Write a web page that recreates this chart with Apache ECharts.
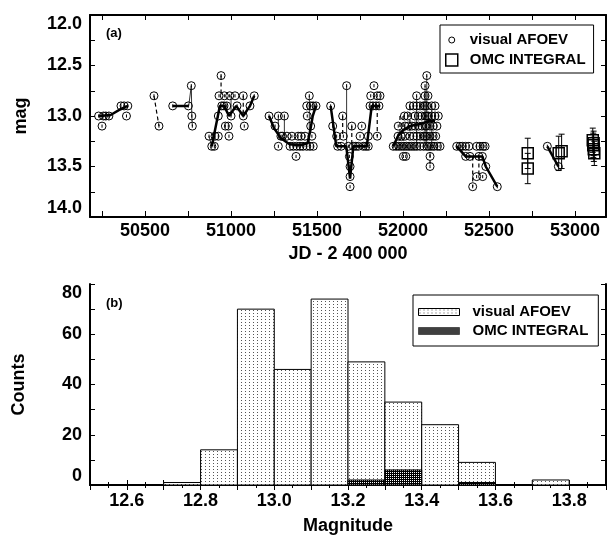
<!DOCTYPE html>
<html>
<head>
<meta charset="utf-8">
<script src="https://cdn.jsdelivr.net/npm/echarts@6/dist/echarts.min.js"></script>
<style>
html, body { margin: 0; padding: 0; background: #fff; }
#chart { width: 610px; height: 536px; }
</style>
</head>
<body>
<div id="chart"></div>
<script>
// (a) light curve: visual AFOEV estimates [JD-2400000, mag]
var visualObs = [
    [50230,13.0],[50250,13.1],[50258,13.0],[50272,13.0],[50290,13.0],[50360,12.9],[50378,12.9],[50392,13.0],[50400,12.9],
    [50552,12.8],[50581,13.1],
    [50661,12.9],[50752,12.9],[50769,12.7],[50772,13.0],[50775,13.1],
    [50872,13.2],[50888,13.3],[50903,13.3],[50907,13.2],[50926,13.2],[50926,13.0],[50930,12.8],[50942,12.6],[50946,12.9],
    [50959,12.9],[50961,12.8],[50967,13.1],[50975,12.9],[50984,13.1],[50988,13.2],[50992,12.8],[51000,13.0],[51023,12.8],
    [51035,12.9],[51071,12.8],[51071,13.0],[51077,13.1],[51110,12.9],[51135,12.8],
    [51221,13.0],[51256,13.1],[51275,13.0],[51275,13.3],[51290,13.2],[51298,13.2],[51310,13.0],[51325,13.2],[51343,13.3],
    [51354,13.2],[51362,13.3],[51378,13.4],[51382,13.3],[51390,13.2],[51401,13.3],[51407,13.2],[51418,13.3],[51430,13.2],
    [51440,13.3],[51443,13.0],[51440,12.9],[51455,12.8],[51459,13.3],[51463,12.9],[51463,13.1],[51470,13.2],[51478,13.3],
    [51477,12.9],[51494,12.9],
    [51579,12.9],[51591,13.1],[51614,13.2],[51620,13.3],[51649,13.0],[51640,13.3],[51653,13.2],[51672,12.7],[51682,13.3],
    [51688,13.4],[51692,13.5],[51692,13.6],[51692,13.7],[51702,13.1],[51711,13.3],[51725,13.3],[51740,13.3],[51750,13.2],
    [51760,13.1],[51769,13.3],[51784,13.3],[51798,13.3],[51798,13.2],[51808,12.9],[51812,12.8],[51825,12.9],[51831,12.7],
    [51843,12.9],[51850,12.8],[51850,13.2],[51860,12.9],[51866,12.8],
    [51943,13.3],[51960,13.3],[51975,13.3],[51990,13.3],[52005,13.3],[52020,13.3],[52035,13.3],[52050,13.3],[52065,13.3],
    [52080,13.3],[52100,13.3],[52120,13.3],[52138,13.3],[52150,13.3],[52165,13.3],[52180,13.3],[52200,13.3],[52215,13.3],
    [52002,13.4],[52016,13.4],[52157,13.4],[52157,13.5],
    [51971,13.2],[51990,13.2],[52011,13.2],[52040,13.2],[52060,13.2],[52080,13.2],[52100,13.2],[52118,13.2],[52128,13.2],
    [52138,13.2],[52157,13.2],[52175,13.2],[52190,13.2],
    [51972,13.1],[52011,13.1],[52030,13.1],[52052,13.1],[52070,13.1],[52090,13.1],[52110,13.1],[52128,13.1],[52138,13.1],
    [52157,13.1],[52175,13.1],[52197,13.1],
    [52008,13.0],[52027,13.0],[52069,13.0],[52089,13.0],[52108,13.0],[52128,13.0],[52138,13.0],[52147,13.0],[52167,13.0],
    [52186,13.0],[52205,13.0],
    [52040,12.9],[52060,12.9],[52079,12.9],[52099,12.9],[52118,12.9],[52128,12.9],[52138,12.9],[52167,12.9],[52186,12.9],
    [52079,12.8],[52128,12.8],[52145,12.8],[52128,12.7],[52138,12.6],
    [52312,13.3],[52331,13.3],[52345,13.3],[52364,13.3],[52364,13.4],[52383,13.3],[52389,13.4],[52405,13.7],[52428,13.3],
    [52428,13.6],[52441,13.4],[52447,13.3],[52461,13.4],[52463,13.6],[52465,13.3],[52477,13.3],[52481,13.5],[52548,13.7],
    [52839,13.3],[52903,13.5]
];

// thick running-mean segments
var trendSegs = [
    [[50232,13.0],[50300,12.99],[50360,12.93],[50400,12.9]],
    [[50661,12.9],[50752,12.9]],
    [[50888,13.3],[50935,12.9],[50960,12.9],[50988,13.0],[51030,12.9],[51071,13.0],[51110,12.9],[51135,12.8]],
    [[51221,13.0],[51250,13.12],[51290,13.22],[51340,13.28],[51400,13.29],[51445,13.27],[51460,13.15],[51475,13.0],[51494,12.9]],
    [[51579,12.9],[51612,13.3],[51670,13.3],[51692,13.62],[51711,13.3],[51789,13.3],[51818,12.9],[51866,12.9]],
    [[51943,13.3],[51970,13.2],[52000,13.14],[52040,13.1],[52100,13.08],[52150,13.05],[52186,13.05]],
    [[52312,13.3],[52364,13.4],[52461,13.4],[52481,13.5],[52548,13.7]],
    [[52839,13.3],[52903,13.5]]
];

// thin joins
var thinSegs = [
    [[50754,12.9],[50769,12.7],[50772,13.0],[50775,13.1]],
    [[50872,13.2],[50888,13.3],[50907,13.2]],
    [[51000,12.8],[51000,13.0]],
    [[51275,13.0],[51275,13.2]],
    [[51310,13.0],[51310,13.2]],
    [[51455,12.8],[51455,13.3]],
    [[51672,12.7],[51672,13.3]],
    [[52079,12.8],[52079,13.3]],
    [[52128,12.7],[52128,13.3]],
    [[52138,12.6],[52138,13.3]],
    [[52167,12.9],[52167,13.3]]
];

// dashed joins
var dashSegs = [
    [[50552,12.8],[50581,13.1]],
    [[50942,12.6],[50942,12.8]],
    [[51071,12.8],[51071,13.0]],
    [[51649,13.0],[51649,13.2]],
    [[51702,13.1],[51702,13.3]],
    [[51850,12.9],[51850,13.2]],
    [[51982,13.0],[51982,13.3]],
    [[52000,13.0],[52000,13.3]],
    [[52040,12.9],[52040,13.2]],
    [[52157,13.3],[52157,13.5]],
    [[52405,13.4],[52405,13.7]],
    [[52441,13.4],[52441,13.6]]
];

// OMC INTEGRAL points and errors
var omcObs = [[52725,13.37],[52725,13.52],[52905,13.37],[52922,13.35],[53103,13.24],[53106,13.29],[53109,13.33],[53112,13.37],[53108,13.27]];
var omcErr = [0.15, 0.15, 0.17, 0.17, 0.12, 0.12, 0.12, 0.12, 0.12];

var jdTicks = [50250,50500,50750,51000,51250,51500,51750,52000,52250,52500,52750,53000];
var jdLabels = [50500,51000,51500,52000,52500,53000];

// (b) histogram, bins of 0.1 mag
var histBinLo = [12.7, 12.8, 12.9, 13.0, 13.1, 13.2, 13.3, 13.4, 13.5, 13.7];
var visualCounts = [1, 14, 70, 46, 74, 49, 33, 24, 9, 2];
var omcBinLo = [13.2, 13.3, 13.5];
var omcCounts = [2, 6, 1];

var FONT = '"Liberation Sans", Arial, sans-serif';
var BIN = 0.1;

function makePattern(w, h, draw) {
    var c = document.createElement('canvas');
    c.width = w; c.height = h;
    var ctx = c.getContext('2d');
    ctx.fillStyle = '#fff';
    ctx.fillRect(0, 0, w, h);
    draw(ctx);
    return { image: c, repeat: 'repeat' };
}
var dotFill = makePattern(4, 3, function (ctx) {
    ctx.fillStyle = '#555';
    ctx.fillRect(1, 1, 1, 1);
});
var darkFill = makePattern(2, 2, function (ctx) {
    ctx.fillStyle = '#000';
    ctx.fillRect(0, 0, 2, 2);
    ctx.fillStyle = '#fff';
    ctx.fillRect(0, 0, 1, 1);
});

var labelStyle = { fontSize: 18, fontWeight: 'bold', color: '#000', fontFamily: FONT };
var nameStyle = { fontSize: 18, fontWeight: 'bold', color: '#000', fontFamily: FONT };
var blackLine = { lineStyle: { color: '#000', width: 2 } };

function mirrorAxis(gridIndex, position, extra) {
    var ax = {
        type: 'value', gridIndex: gridIndex, position: position,
        axisLine: blackLine,
        axisTick: { inside: true, length: 5, lineStyle: { color: '#000' } },
        axisLabel: { show: false },
        splitLine: { show: false }
    };
    return Object.assign(ax, extra);
}

var series = [];
trendSegs.forEach(function (seg) {
    series.push({ type: 'line', xAxisIndex: 0, yAxisIndex: 0, data: seg, showSymbol: false, silent: true,
        lineStyle: { color: '#000', width: 2.5 }, z: 2, animation: false });
});
thinSegs.forEach(function (seg) {
    series.push({ type: 'line', xAxisIndex: 0, yAxisIndex: 0, data: seg, showSymbol: false, silent: true,
        lineStyle: { color: '#000', width: 0.8 }, z: 2, animation: false });
});
dashSegs.forEach(function (seg) {
    series.push({ type: 'line', xAxisIndex: 0, yAxisIndex: 0, data: seg, showSymbol: false, silent: true,
        lineStyle: { color: '#000', width: 1.2, type: [4, 3] }, z: 2, animation: false });
});
series.push({
    name: 'visual AFOEV', type: 'scatter', xAxisIndex: 0, yAxisIndex: 0,
    data: visualObs,
    symbol: 'path://M10,0A10,10,0,1,1,10,20A10,10,0,1,1,10,0ZM10,6L10,14',
    symbolSize: 8,
    itemStyle: { color: 'rgba(255,255,255,0)', borderColor: '#000', borderWidth: 1, opacity: 1 },
    z: 3, animation: false
});
series.push({
    type: 'custom', xAxisIndex: 0, yAxisIndex: 0,
    data: omcObs.map(function (p, i) { return [p[0], p[1], omcErr[i]]; }),
    encode: { x: 0, y: 1 },
    renderItem: function (params, api) {
        var a = api.coord([api.value(0), api.value(1) - api.value(2)]);
        var b = api.coord([api.value(0), api.value(1) + api.value(2)]);
        var st = { stroke: '#000', lineWidth: 1 };
        return { type: 'group', children: [
            { type: 'line', shape: { x1: a[0], y1: a[1], x2: b[0], y2: b[1] }, style: st },
            { type: 'line', shape: { x1: a[0] - 3, y1: a[1], x2: a[0] + 3, y2: a[1] }, style: st },
            { type: 'line', shape: { x1: b[0] - 3, y1: b[1], x2: b[0] + 3, y2: b[1] }, style: st }
        ] };
    },
    silent: true, z: 3, animation: false
});
series.push({
    name: 'OMC INTEGRAL', type: 'scatter', xAxisIndex: 0, yAxisIndex: 0,
    data: omcObs, symbol: 'rect', symbolSize: 11,
    itemStyle: { color: 'rgba(255,255,255,0)', borderColor: '#000', borderWidth: 1.5, opacity: 1 },
    z: 4, animation: false
});

function histSeries(name, lo, counts, fill, z) {
    return {
        name: name, type: 'custom', xAxisIndex: 2, yAxisIndex: 2,
        data: lo.map(function (v, i) { return [v, v + BIN, counts[i]]; }),
        encode: { x: [0, 1], y: 2 },
        renderItem: function (params, api) {
            var p0 = api.coord([api.value(0), 0]);
            var p1 = api.coord([api.value(1), api.value(2)]);
            return { type: 'rect',
                shape: { x: p0[0], y: p1[1], width: p1[0] - p0[0], height: p0[1] - p1[1] },
                style: { fill: fill, stroke: '#000', lineWidth: 1 } };
        },
        silent: true, z: z, animation: false
    };
}
series.push(histSeries('visual AFOEV', histBinLo, visualCounts, dotFill, 2));
series.push(histSeries('OMC INTEGRAL', omcBinLo, omcCounts, darkFill, 3));

var option = {
    backgroundColor: '#fff',
    animation: false,
    grid: [
        { left: 90, top: 15, width: 516, height: 202 },
        { left: 90, top: 284, width: 516, height: 204 }
    ],
    xAxis: [
        {
            type: 'value', gridIndex: 0, min: 50180, max: 53180,
            axisLine: blackLine,
            axisTick: { inside: true, length: 6, lineStyle: { color: '#000' }, customValues: jdTicks },
            axisLabel: Object.assign({ customValues: jdLabels, margin: 5, formatter: function (v) { return String(v); } }, labelStyle),
            splitLine: { show: false },
            name: 'JD - 2 400 000', nameLocation: 'middle', nameGap: 28, nameTextStyle: nameStyle
        },
        mirrorAxis(0, 'top', { min: 50180, max: 53180,
            axisTick: { inside: true, length: 5, lineStyle: { color: '#000' }, customValues: jdTicks } }),
        {
            type: 'value', gridIndex: 1, min: 12.5, max: 13.9, interval: 0.1,
            axisLine: blackLine,
            axisTick: { inside: true, length: 5, lineStyle: { color: '#000' } },
            minorTick: { show: true, splitNumber: 2, length: 3, lineStyle: { color: '#000' } },
            axisLabel: Object.assign({ margin: 7, formatter: function (v) {
                return Math.round(v * 10) % 2 === 0 ? v.toFixed(1) : '';
            } }, labelStyle),
            splitLine: { show: false },
            name: 'Magnitude', nameLocation: 'middle', nameGap: 32, nameTextStyle: nameStyle
        },
        mirrorAxis(1, 'top', { min: 12.5, max: 13.9, interval: 0.1,
            minorTick: { show: true, splitNumber: 2, length: 3, lineStyle: { color: '#000' } } })
    ],
    yAxis: [
        {
            type: 'value', gridIndex: 0, inverse: true, min: 12, max: 14, interval: 0.5,
            axisLine: blackLine,
            axisTick: { inside: true, length: 5, lineStyle: { color: '#000' } },
            minorTick: { show: true, splitNumber: 2, length: 5, lineStyle: { color: '#000' } },
            axisLabel: Object.assign({ margin: 8, formatter: function (v) { return v.toFixed(1); },
                verticalAlignMinLabel: 'top', verticalAlignMaxLabel: 'bottom' }, labelStyle),
            splitLine: { show: false },
            name: 'mag', nameLocation: 'middle', nameGap: 60, nameTextStyle: nameStyle
        },
        mirrorAxis(0, 'right', { inverse: true, min: 12, max: 14, interval: 0.5,
            minorTick: { show: true, splitNumber: 2, length: 5, lineStyle: { color: '#000' } } }),
        {
            type: 'value', gridIndex: 1, min: 0, max: 80, interval: 20,
            axisLine: blackLine,
            axisTick: { inside: true, length: 5, lineStyle: { color: '#000' } },
            minorTick: { show: true, splitNumber: 2, length: 5, lineStyle: { color: '#000' } },
            axisLabel: Object.assign({ margin: 8, verticalAlignMinLabel: 'bottom', verticalAlignMaxLabel: 'top' }, labelStyle),
            splitLine: { show: false },
            name: 'Counts', nameLocation: 'middle', nameGap: 62, nameTextStyle: nameStyle
        },
        mirrorAxis(1, 'right', { min: 0, max: 80, interval: 20,
            minorTick: { show: true, splitNumber: 2, length: 5, lineStyle: { color: '#000' } } })
    ],
    legend: [
        {
            left: 440, top: 25, orient: 'vertical', selectedMode: false,
            backgroundColor: '#fff', borderColor: '#000', borderWidth: 1, borderRadius: 0,
            padding: [7, 8, 5, 5], itemGap: 4, itemWidth: 20, itemHeight: 12,
            textStyle: { fontSize: 15, fontWeight: 'bold', fontFamily: FONT, color: '#000', lineHeight: 16, padding: [0, 0, 0, 3] },
            data: [
                { name: 'visual AFOEV', icon: 'path://M0,0M12,12M3,6A3,3,0,1,1,9,6A3,3,0,1,1,3,6Z',
                  itemStyle: { color: 'rgba(255,255,255,0)', borderColor: '#000', borderWidth: 1 } },
                { name: 'OMC INTEGRAL', icon: 'path://M0,0L10,0L10,10L0,10Z',
                  itemStyle: { color: 'rgba(255,255,255,0)', borderColor: '#000', borderWidth: 1.5 } }
            ]
        },
        {
            left: 413, top: 295, orient: 'vertical', selectedMode: false,
            backgroundColor: '#fff', borderColor: '#000', borderWidth: 1, borderRadius: 0,
            padding: [9, 10, 7, 5], itemGap: 3, itemWidth: 41, itemHeight: 7,
            textStyle: { fontSize: 15, fontWeight: 'bold', fontFamily: FONT, color: '#000', lineHeight: 16, padding: [0, 0, 0, 8] },
            data: [
                { name: 'visual AFOEV', icon: 'rect', itemStyle: { color: dotFill, borderColor: '#000', borderWidth: 1 } },
                { name: 'OMC INTEGRAL', icon: 'rect', itemStyle: { color: darkFill, borderColor: '#000', borderWidth: 0.5 } }
            ]
        }
    ],
    graphic: [
        { type: 'text', left: 106, top: 27, style: { text: '(a)', font: 'bold 13px ' + FONT, fill: '#000' } },
        { type: 'text', left: 106, top: 297, style: { text: '(b)', font: 'bold 13px ' + FONT, fill: '#000' } }
    ],
    series: series
};

var chart = echarts.init(document.getElementById('chart'));
chart.setOption(option);
</script>
</body>
</html>
